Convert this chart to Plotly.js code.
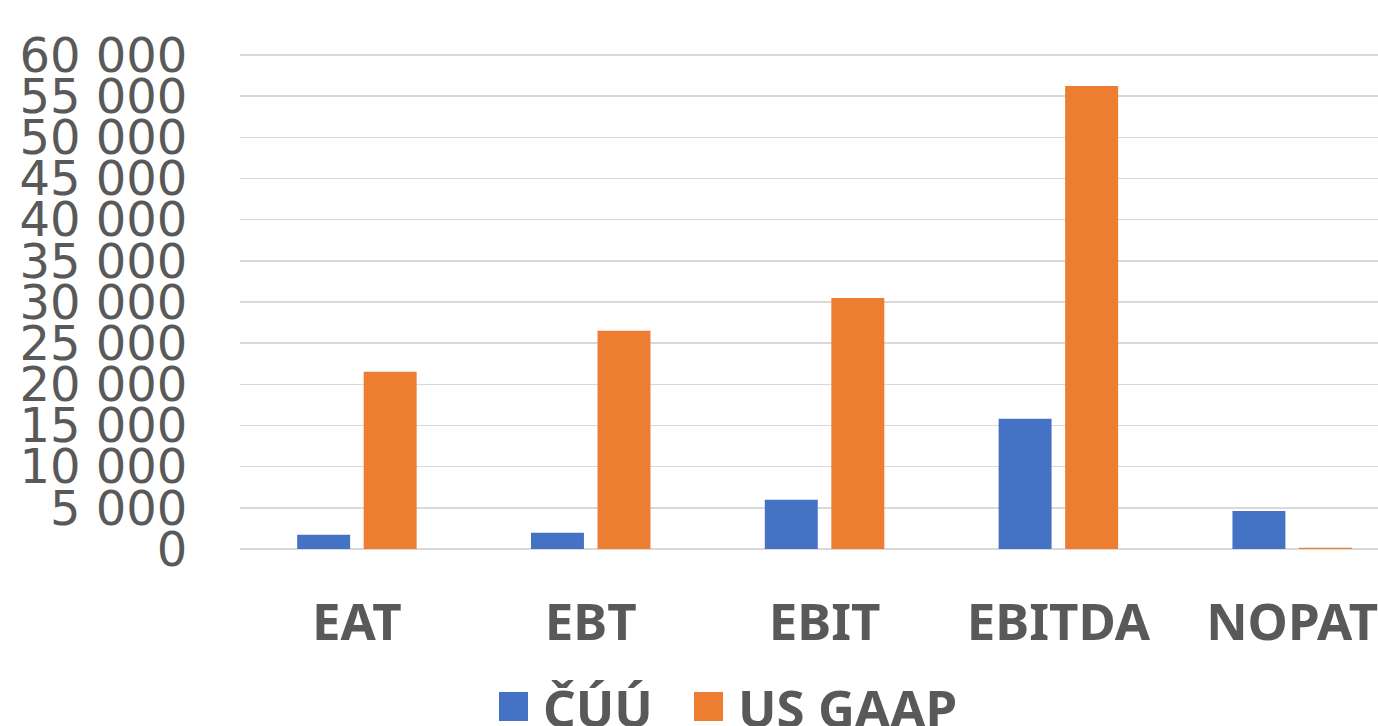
<!DOCTYPE html>
<html>
<head>
<meta charset="utf-8">
<script src="https://cdn.plot.ly/plotly-3.0.1.min.js"></script>
<style>html,body{margin:0;padding:0;background:#fff;}#chart{width:1378px;height:726px;}</style>
</head>
<body>
<div id="chart"></div>
<script>
const categories = ["EAT", "EBT", "EBIT", "EBITDA", "NOPAT"];
const seriesNames = ["ČÚÚ", "US GAAP"];
const cuuValues = [1735, 1975, 5980, 15810, 4615];
const gaapValues = [21520, 26500, 30500, 56230, 150];
const yTickValues = [0, 5000, 10000, 15000, 20000, 25000, 30000, 35000, 40000, 45000, 50000, 55000, 60000];
const colors = ["#4472C4", "#ED7D31"];

const textColor = "#595959";
const W = 1378, H = 726;
const mL = 240, mR = 0, mT = 50, mB = 177;
const plotW = W - mL - mR, plotH = H - mT - mB;
const px = v => (v - mL) / plotW;
const py = v => (H - mB - v) / plotH;

const traces = [
  {type: "bar", name: seriesNames[0], x: categories, y: cuuValues, marker: {color: colors[0]}, hoverinfo: "x+y"},
  {type: "bar", name: seriesNames[1], x: categories, y: gaapValues, marker: {color: colors[1]}, hoverinfo: "x+y"}
];

const legendItems = [
  {sq: 499, tx: 541},
  {sq: 694, tx: 736}
];
const shapes = [], annotations = [];
legendItems.forEach((it, i) => {
  shapes.push({type: "rect", xref: "paper", yref: "paper",
    x0: px(it.sq), x1: px(it.sq + 29), y0: py(721), y1: py(692),
    fillcolor: colors[i], line: {width: 0}});
  annotations.push({xref: "paper", yref: "paper", x: px(it.tx), y: py(707),
    xanchor: "left", yanchor: "middle", showarrow: false, text: seriesNames[i],
    font: {family: "Noto Sans", size: 51, color: textColor, weight: "bold"}});
});

const layout = {
  width: W, height: H,
  margin: {l: mL, r: mR, t: mT, b: mB, pad: 0},
  paper_bgcolor: "#fff", plot_bgcolor: "#fff",
  separators: ", ",
  showlegend: false,
  barmode: "group",
  bargap: 0.431,
  bargroupgap: 0.204,
  xaxis: {
    type: "category",
    range: [-0.5, 4.367],
    showgrid: false, zeroline: false, showline: false,
    ticks: "outside", ticklen: 29, tickcolor: "rgba(0,0,0,0)",
    tickfont: {family: "Noto Sans", size: 51, color: textColor, weight: "bold"}
  },
  yaxis: {
    range: [0, 60607],
    tickvals: yTickValues,
    tickformat: ",d",
    showgrid: true, gridcolor: "#d9d9d9", gridwidth: 1.5,
    zeroline: true, zerolinecolor: "#d9d9d9", zerolinewidth: 1.5,
    showline: false,
    ticks: "outside", ticklen: 42, tickcolor: "rgba(0,0,0,0)",
    tickfont: {family: "DejaVu Sans", size: 48, color: textColor}
  },
  shapes: shapes,
  annotations: annotations
};

Plotly.newPlot("chart", traces, layout, {displayModeBar: false, staticPlot: true});
</script>
</body>
</html>
